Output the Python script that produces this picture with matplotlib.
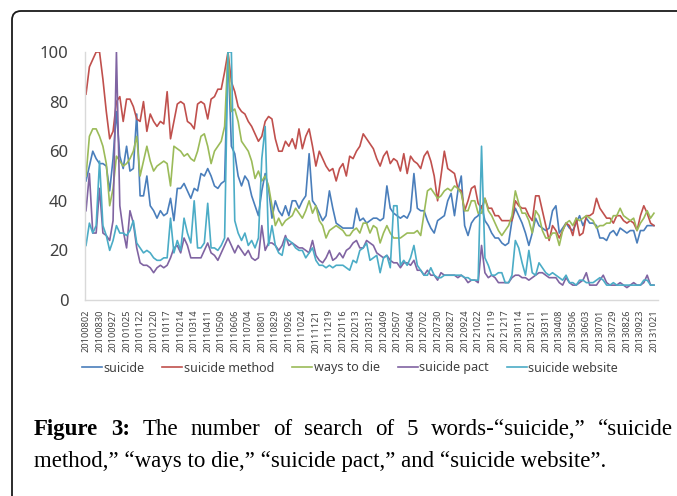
import numpy as np
import matplotlib
matplotlib.use('Agg')
import matplotlib.pyplot as plt
from matplotlib.patches import FancyBboxPatch
from matplotlib.transforms import IdentityTransform

# weekly search volume, 2010-08-02 .. 2013-10-21 (169 weeks)
suicide = [
    48, 54, 60, 57, 55, 55, 54, 44, 57, 76,
    58, 53, 62, 52, 53, 75, 42, 42, 50, 38,
    36, 33, 36, 34, 35, 41, 32, 45, 45, 47,
    44, 41, 45, 44, 51, 50, 53, 50, 46, 45,
    47, 48, 100, 62, 59, 50, 46, 50, 48, 42,
    38, 34, 44, 51, 45, 33, 40, 36, 34, 38,
    34, 40, 40, 37, 40, 42, 59, 40, 38, 35,
    32, 34, 44, 37, 31, 30, 29, 29, 29, 29,
    37, 32, 33, 31, 32, 33, 33, 32, 33, 46,
    37, 35, 34, 33, 34, 33, 36, 51, 37, 36,
    36, 32, 29, 27, 32, 33, 34, 40, 43, 34,
    44, 50, 30, 26, 31, 33, 34, 38, 32, 30,
    27, 25, 25, 23, 22, 23, 32, 37, 34, 31,
    27, 22, 27, 33, 30, 29, 28, 29, 36, 38,
    27, 29, 31, 29, 28, 31, 34, 30, 33, 31,
    31, 30, 25, 25, 24, 27, 28, 26, 29, 28,
    27, 28, 28, 23, 28, 28, 30, 30, 30]

suicide_method = [
    83, 94, 97, 100, 100, 89, 76, 65, 68, 80,
    82, 72, 81, 81, 78, 73, 72, 80, 68, 75,
    72, 70, 72, 71, 84, 65, 72, 79, 80, 79,
    72, 71, 69, 79, 80, 79, 73, 81, 82, 85,
    85, 92, 100, 88, 84, 78, 76, 75, 72, 70,
    67, 64, 66, 72, 74, 73, 65, 60, 60, 64,
    62, 65, 61, 69, 61, 66, 69, 62, 54, 60,
    57, 54, 52, 53, 48, 53, 55, 50, 58, 57,
    60, 62, 67, 65, 63, 61, 57, 54, 58, 60,
    55, 57, 56, 52, 59, 51, 58, 56, 55, 53,
    58, 60, 56, 50, 40, 50, 60, 53, 52, 51,
    45, 44, 36, 40, 45, 46, 39, 37, 41, 37,
    37, 34, 34, 32, 32, 32, 32, 40, 38, 37,
    37, 34, 32, 42, 42, 36, 30, 24, 30, 28,
    25, 28, 31, 30, 26, 33, 26, 27, 34, 34,
    35, 41, 37, 35, 33, 33, 31, 34, 34, 32,
    31, 32, 31, 28, 34, 38, 35, 31, 30]

ways_to_die = [
    50, 66, 69, 69, 66, 62, 55, 38, 45, 58,
    56, 54, 55, 57, 60, 66, 50, 56, 62, 56,
    52, 54, 55, 56, 55, 46, 62, 61, 60, 58,
    59, 57, 56, 60, 66, 67, 62, 55, 60, 62,
    64, 70, 100, 76, 77, 72, 64, 62, 60, 56,
    49, 52, 48, 50, 46, 38, 30, 33, 30, 32,
    33, 34, 37, 35, 33, 36, 40, 35, 38, 32,
    30, 25, 28, 29, 30, 29, 28, 26, 26, 28,
    29, 27, 31, 31, 27, 30, 29, 23, 27, 30,
    27, 25, 25, 25, 26, 27, 27, 27, 28, 26,
    35, 44, 45, 43, 41, 42, 44, 45, 44, 46,
    45, 43, 36, 36, 40, 40, 35, 35, 41, 36,
    34, 31, 28, 26, 28, 30, 34, 44, 39, 35,
    35, 32, 27, 36, 34, 28, 25, 25, 27, 27,
    22, 28, 31, 32, 30, 33, 32, 33, 34, 33,
    32, 29, 30, 30, 31, 31, 34, 34, 37, 34,
    33, 32, 33, 28, 31, 33, 36, 33, 35]

suicide_pact = [
    36, 51, 27, 27, 45, 27, 26, 24, 32, 100,
    38, 28, 21, 36, 31, 21, 15, 14, 14, 13,
    11, 13, 14, 13, 14, 17, 21, 22, 19, 25,
    22, 17, 17, 17, 17, 20, 23, 19, 18, 16,
    19, 22, 25, 22, 19, 22, 20, 18, 20, 17,
    16, 17, 30, 20, 23, 23, 22, 20, 22, 26,
    22, 23, 22, 21, 21, 20, 19, 24, 18, 16,
    15, 17, 20, 16, 17, 19, 17, 20, 21, 23,
    24, 21, 21, 24, 23, 22, 19, 18, 17, 18,
    16, 15, 15, 13, 15, 15, 14, 16, 12, 12,
    10, 12, 10, 10, 8, 11, 10, 10, 10, 10,
    9, 10, 9, 7, 8, 8, 7, 22, 11, 9,
    10, 9, 7, 7, 7, 7, 9, 10, 10, 9,
    9, 8, 9, 10, 11, 11, 10, 9, 9, 9,
    7, 6, 9, 7, 6, 6, 7, 8, 11, 6,
    6, 6, 8, 10, 7, 6, 6, 6, 7, 6,
    5, 6, 7, 6, 6, 7, 10, 6, 6]

suicide_website = [
    22, 31, 27, 30, 56, 30, 26, 20, 24, 30,
    27, 27, 26, 28, 32, 23, 21, 19, 20, 19,
    17, 16, 16, 17, 17, 33, 19, 24, 20, 33,
    27, 23, 40, 21, 21, 23, 39, 21, 21, 20,
    22, 25, 100, 100, 32, 27, 24, 27, 22, 24,
    21, 25, 57, 70, 22, 30, 22, 19, 18, 25,
    24, 23, 21, 20, 20, 17, 19, 21, 16, 14,
    14, 13, 14, 13, 14, 14, 14, 13, 12, 16,
    15, 20, 21, 23, 16, 17, 18, 11, 17, 18,
    13, 38, 38, 14, 16, 14, 17, 22, 14, 12,
    10, 10, 13, 10, 9, 9, 10, 10, 10, 10,
    10, 10, 9, 9, 8, 8, 8, 62, 17, 14,
    10, 10, 11, 11, 7, 7, 10, 24, 21, 15,
    10, 20, 11, 10, 15, 13, 11, 10, 11, 10,
    9, 8, 10, 7, 7, 6, 8, 8, 7, 7,
    7, 8, 9, 8, 6, 6, 7, 6, 6, 6,
    6, 6, 6, 6, 6, 8, 8, 6, 6]

tick_labels = [
    '20100802', '20100830', '20100927', '20101025', '20101122', '20101220',
    '20110117', '20110214', '20110314', '20110411', '20110509', '20110606',
    '20110704', '20110801', '20110829', '20110926', '20111024', '20111121',
    '20111219', '20120116', '20120213', '20120312', '20120409', '20120507',
    '20120604', '20120702', '20120730', '20120827', '20120924', '20121022',
    '20121119', '20121217', '20130114', '20130211', '20130311', '20130408',
    '20130506', '20130603', '20130701', '20130729', '20130826', '20130923',
    '20131021']

names = ['suicide', 'suicide method', 'ways to die', 'suicide pact', 'suicide website']
colors = ['#4a7ebb', '#c0504d', '#9bbb59', '#8064a2', '#4bacc6']

W, H = 677, 496
fig = plt.figure(figsize=(W / 100, H / 100), dpi=100)
fig.patch.set_facecolor('white')

# rounded frame that runs off the right and bottom edge
frame = FancyBboxPatch((12, -40), 800, H - 11 + 40,
                       boxstyle='round,pad=0,rounding_size=9',
                       transform=IdentityTransform(), fill=False,
                       ec='#1a1a1a', lw=1.3)
fig.add_artist(frame)

ax = fig.add_axes([85 / W, 1 - 300 / H, (658 - 85) / W, (300 - 52) / H])
x = np.arange(len(suicide))
for ys, name, c in zip([suicide, suicide_method, ways_to_die, suicide_pact, suicide_website],
                       names, colors):
    ax.plot(x, ys, color=c, lw=1.2, label=name, solid_joinstyle='round')

ax.set_xlim(-0.3, 169.2)
ax.set_ylim(0, 100)
ax.set_yticks(range(0, 101, 20))
ax.set_xticks(x[::4])
ax.set_xticklabels(tick_labels, rotation=90, fontsize=6.6, color='#404040',
                   family='Noto Sans')
for lab in ax.get_yticklabels():
    lab.set_family('Noto Sans')
    lab.set_fontsize(12)
    lab.set_color('#404040')
ax.tick_params(axis='both', length=0)
ax.tick_params(axis='y', pad=12)
ax.tick_params(axis='x', pad=7)
for s in ['top', 'right']:
    ax.spines[s].set_visible(False)
for s in ['left', 'bottom']:
    ax.spines[s].set_color('#d9d9d9')
    ax.spines[s].set_linewidth(1)

leg = fig.legend(*ax.get_legend_handles_labels(), loc='center',
                 bbox_to_anchor=(350 / W, 1 - 368 / H), ncol=5, frameon=False,
                 handlelength=1.6, handletextpad=0.15, columnspacing=1.4,
                 prop={'family': 'Noto Sans', 'size': 9})
for t in leg.get_texts():
    t.set_color('#404040')

# caption, first line justified
cap_font = 'Liberation Serif'
cap_size = 16.5
words = [('Figure', 'bold'), ('3:', 'bold'), ('The', 'normal'), ('number', 'normal'),
         ('of', 'normal'), ('search', 'normal'), ('of', 'normal'), ('5', 'normal'),
         ('words-\u201csuicide,\u201d', 'normal'), ('\u201csuicide', 'normal')]
r = fig.canvas.get_renderer()
texts = [fig.text(0, 1 - 435 / H, w, fontweight=fw, family=cap_font, fontsize=cap_size,
                  va='baseline', ha='left') for w, fw in words]
widths = [t.get_window_extent(r).width for t in texts]
gap = (673 - 34 - sum(widths)) / (len(texts) - 1)
pos = 34
for t, w in zip(texts, widths):
    t.set_x(pos / W)
    pos += w + gap

fig.text(34 / W, 1 - 467 / H,
         'method,\u201d \u201cways to die,\u201d \u201csuicide pact,\u201d and \u201csuicide website\u201d.',
         family=cap_font, fontsize=cap_size, va='baseline', ha='left')

fig.savefig('out.png', dpi=100)
